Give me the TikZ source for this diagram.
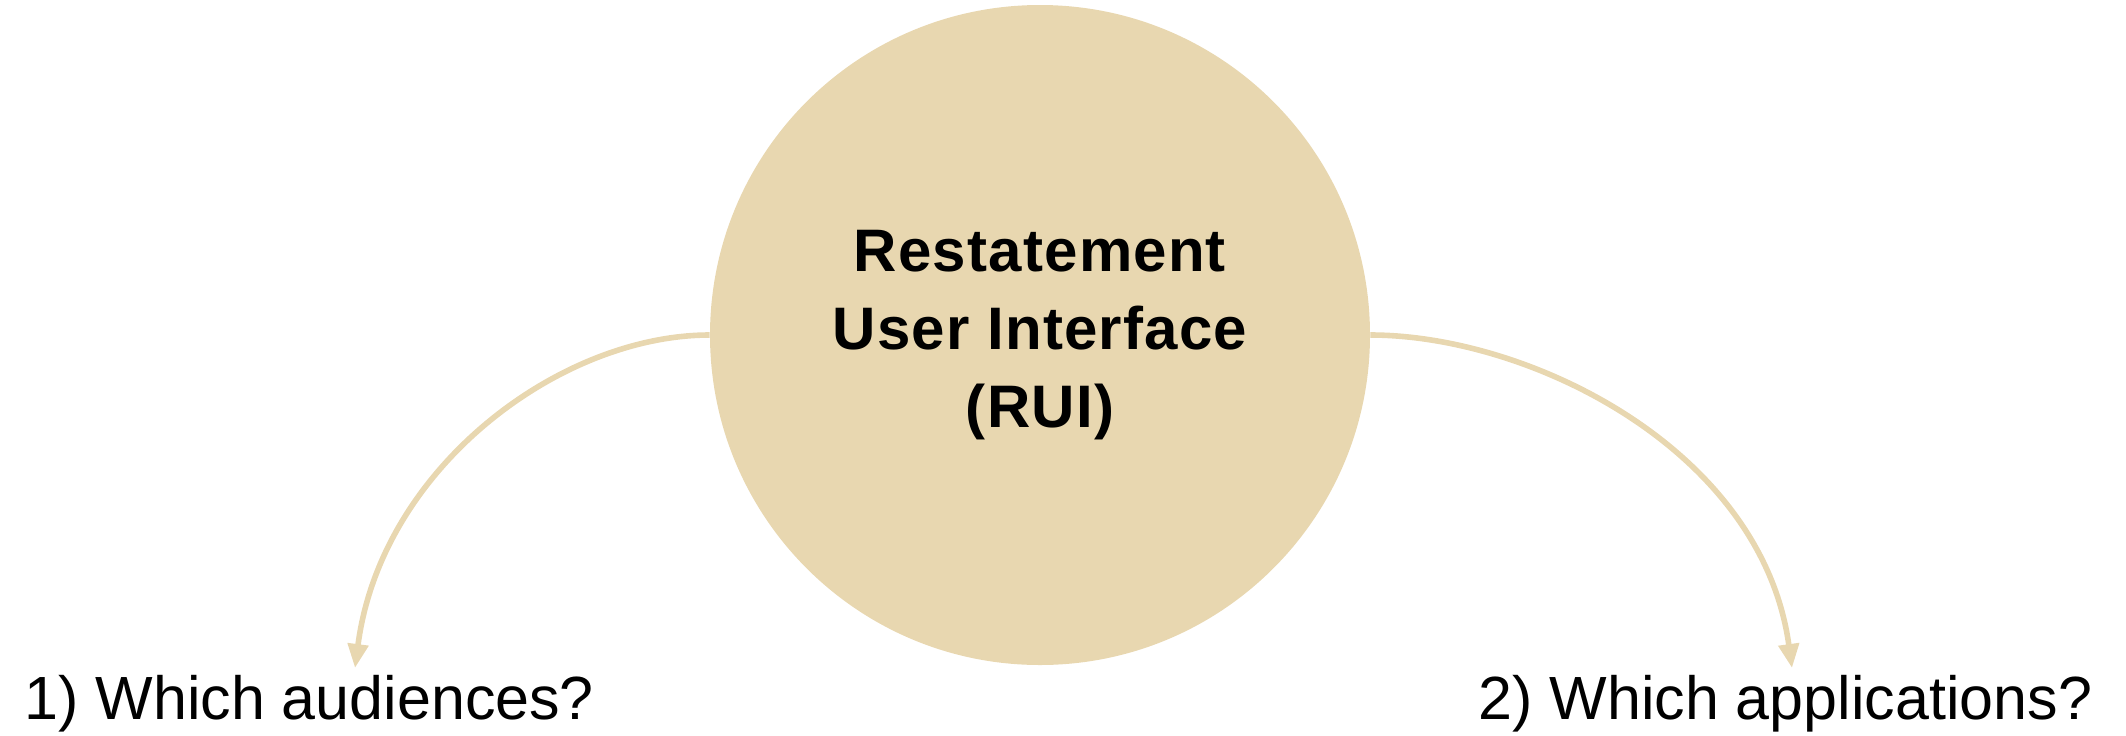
\documentclass[tikz,border=0pt]{standalone}
\usepackage{fontspec}
\setmainfont{Liberation Sans}
\usetikzlibrary{arrows.meta}
\definecolor{rtan}{HTML}{E8D7B0}
\begin{document}
\begin{tikzpicture}[x=0.5pt,y=-0.5pt,
 hub/.style={circle, fill=rtan, minimum size=330pt, inner sep=0pt, align=center, font=\fontsize{30}{39}\selectfont\bfseries\addfontfeatures{LetterSpace=2}},
 lbl/.style={anchor=base west, inner sep=0pt, font=\fontsize{30.5}{36}\selectfont},
 conn/.style={draw=rtan, line width=2.8pt, -{Triangle[length=12pt,width=10pt]}}]
\useasboundingbox (0,0) rectangle (2126,735);
\node[hub] (c) at (1040,335) {Restatement\\User Interface\\(RUI)};
\coordinate (tl) at (355,668);
\coordinate (tr) at (1792,668);
\node[lbl] (l1) at (24,719) {1) Which audiences?};
\node[lbl] (l2) at (1478,719) {2) Which applications?};
\draw[conn] (c.west) .. controls +(-150,0) and +(26,-200) .. (tl);
\draw[conn] (c.east) .. controls +(160,0) and +(-30,-218) .. (tr);
\end{tikzpicture}
\end{document}
